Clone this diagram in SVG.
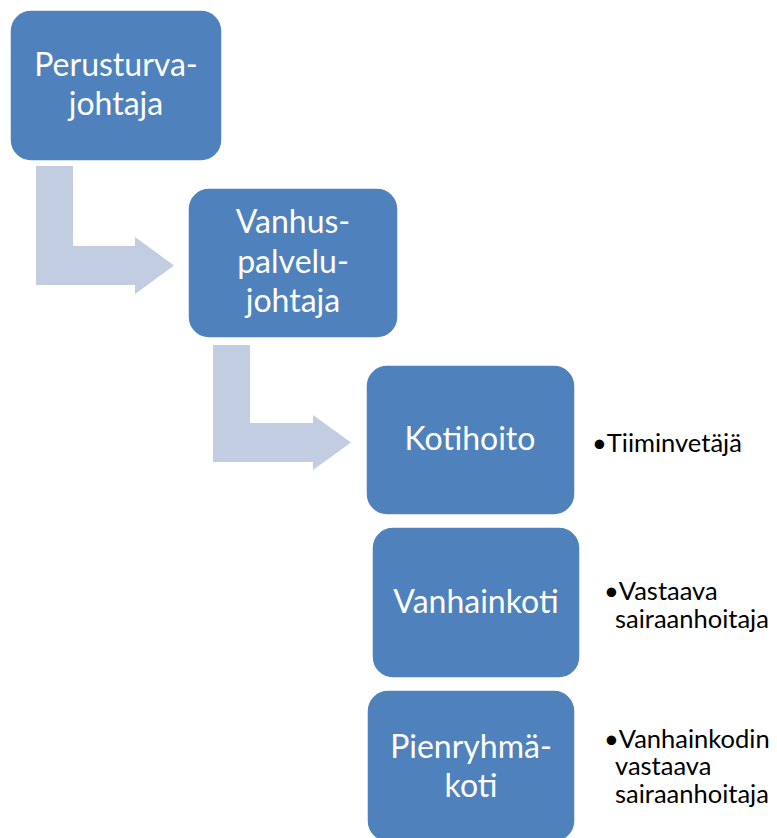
<svg xmlns="http://www.w3.org/2000/svg" width="777" height="838" viewBox="0 0 777 838">
  <style>
    .box { fill: #4f81bd; stroke: #ffffff; stroke-width: 1.5; }
    .arrow { fill: #c3cde1; }
    .label { font-family: Lato, "Open Sans", "Liberation Sans", sans-serif; font-size: 32px; fill: #ffffff; text-anchor: middle; }
    .note { font-family: Lato, "Open Sans", "Liberation Sans", sans-serif; font-size: 25.5px; fill: #000000; }
  </style>
  <rect width="777" height="838" fill="#ffffff"/>

  <!-- bent arrows between levels -->
  <g id="connectors">
    <path class="arrow" d="M36,166 H73 V246 H135 V237 L174,265.5 L135,294 V285 H36 Z"/>
    <path class="arrow" d="M213,345 H250 V423 H313 V415 L351,442.5 L313,470 V462 H213 Z"/>
  </g>

  <g id="perusturvajohtaja">
    <rect class="box" x="10" y="10" width="212" height="151" rx="21"/>
    <text class="label" x="116" y="76">Perusturva-</text>
    <text class="label" x="116" y="115">johtaja</text>
  </g>

  <g id="vanhuspalvelujohtaja">
    <rect class="box" x="188" y="188" width="210" height="150" rx="21"/>
    <text class="label" x="293" y="233">Vanhus-</text>
    <text class="label" x="293" y="273">palvelu-</text>
    <text class="label" x="293" y="312">johtaja</text>
  </g>

  <g id="kotihoito">
    <rect class="box" x="366" y="365" width="209" height="150" rx="21"/>
    <text class="label" x="470" y="450">Kotihoito</text>
  </g>
  <g id="kotihoito-note">
    <text class="note" x="592" y="452">•Tiiminvetäjä</text>
  </g>

  <g id="vanhainkoti">
    <rect class="box" x="372" y="527" width="208" height="151" rx="21"/>
    <text class="label" x="476" y="613">Vanhainkoti</text>
  </g>
  <g id="vanhainkoti-note">
    <text class="note" x="604" y="600">•Vastaava</text>
    <text class="note" x="615" y="628">sairaanhoitaja</text>
  </g>

  <g id="pienryhmakoti">
    <rect class="box" x="367" y="690" width="208" height="152" rx="21"/>
    <text class="label" x="471" y="758">Pienryhmä-</text>
    <text class="label" x="471" y="797">koti</text>
  </g>
  <g id="pienryhmakoti-note">
    <text class="note" x="604" y="748">•Vanhainkodin</text>
    <text class="note" x="615" y="775">vastaava</text>
    <text class="note" x="615" y="803">sairaanhoitaja</text>
  </g>
</svg>
